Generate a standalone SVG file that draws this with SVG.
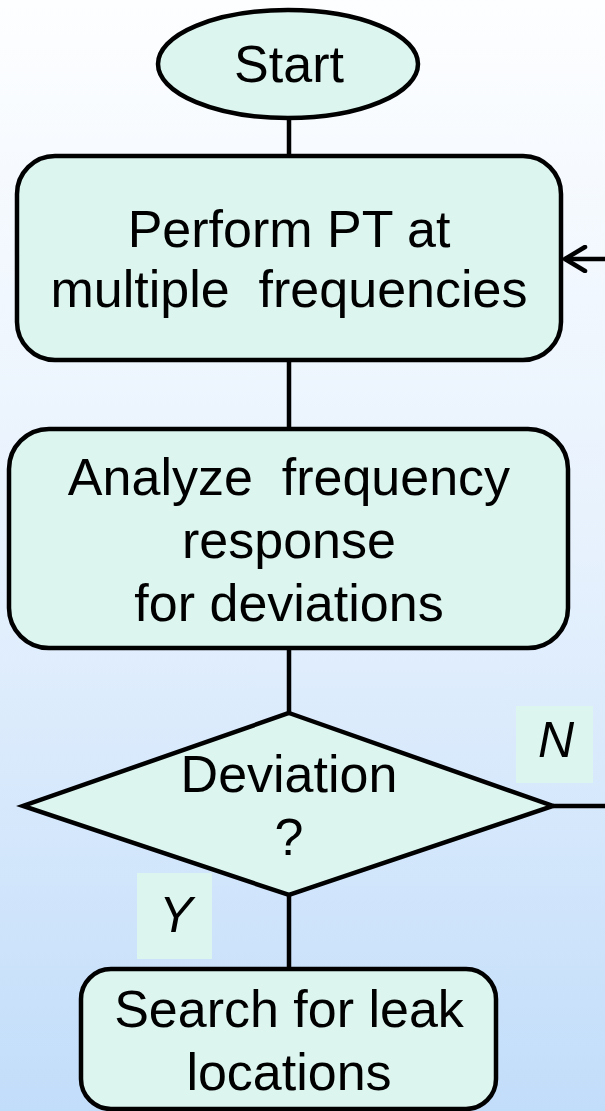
<svg xmlns="http://www.w3.org/2000/svg" width="605" height="1111" viewBox="0 0 605 1111">
  <defs>
    <linearGradient id="bg" x1="0" y1="0" x2="0" y2="1">
      <stop offset="0" stop-color="#fdfeff"/>
      <stop offset="0.5" stop-color="#e6f1fd"/>
      <stop offset="1" stop-color="#c2ddfa"/>
    </linearGradient>
    <!-- open "<" arrowhead, tip at the end of the path -->
    <marker id="open-arrow" viewBox="0 0 26 28" refX="23" refY="14" markerWidth="26" markerHeight="28" markerUnits="userSpaceOnUse" orient="auto">
      <path d="M3,2 L23,14 L3,26" fill="none" stroke="#000" stroke-width="4.5" stroke-linecap="round" stroke-linejoin="round"/>
    </marker>
    <style>
      .shape { fill: #dcf5ef; stroke: #000; stroke-width: 4.5; }
      .label { font-family: "Liberation Sans", Arial, sans-serif; font-size: 52px; fill: #000; text-anchor: middle; white-space: pre; }
      .branch { font-family: "Liberation Sans", Arial, sans-serif; font-size: 50px; font-style: italic; fill: #000; text-anchor: middle; }
      .tag { fill: #dcf5ef; stroke: none; }
      .wire { fill: none; stroke: #000; stroke-width: 4.5; }
    </style>
  </defs>

  <rect x="0" y="0" width="605" height="1111" fill="url(#bg)"/>

  <g id="connectors">
    <line class="wire" x1="289" y1="118" x2="289" y2="156"/>
    <line class="wire" x1="289" y1="360" x2="289" y2="429"/>
    <line class="wire" x1="289" y1="648" x2="289" y2="713"/>
    <line class="wire" x1="289" y1="895" x2="289" y2="969"/>
    <path class="wire" d="M553,806 H625 V259 H565" marker-end="url(#open-arrow)"/>
  </g>

  <g id="start">
    <ellipse class="shape" cx="288" cy="64" rx="130" ry="54"/>
    <text class="label" x="289" y="82">Start</text>
  </g>

  <g id="perform-pt">
    <rect class="shape" x="17" y="156" width="544" height="204" rx="38" ry="38"/>
    <text class="label" x="289" y="247">Perform PT at</text>
    <text class="label" x="289" y="307" xml:space="preserve">multiple  frequencies</text>
  </g>

  <g id="analyze">
    <rect class="shape" x="9" y="429" width="559" height="219" rx="40" ry="40"/>
    <text class="label" x="289" y="495" xml:space="preserve">Analyze  frequency</text>
    <text class="label" x="289" y="558">response</text>
    <text class="label" x="289" y="621">for deviations</text>
  </g>

  <g id="deviation">
    <polygon class="shape" points="289,713 553,806 289,895 23,806"/>
    <text class="label" x="289" y="792">Deviation</text>
    <text class="label" x="289" y="855">?</text>
  </g>

  <g id="label-n">
    <rect class="tag" x="516" y="706" width="77" height="77"/>
    <text class="branch" x="556" y="757">N</text>
  </g>

  <g id="label-y">
    <rect class="tag" x="137" y="873" width="75" height="86"/>
    <text class="branch" x="176" y="932">Y</text>
  </g>

  <g id="search-leak">
    <rect class="shape" x="81" y="969" width="415" height="140" rx="30" ry="30"/>
    <text class="label" x="289" y="1027">Search for leak</text>
    <text class="label" x="289" y="1090">locations</text>
  </g>
</svg>
